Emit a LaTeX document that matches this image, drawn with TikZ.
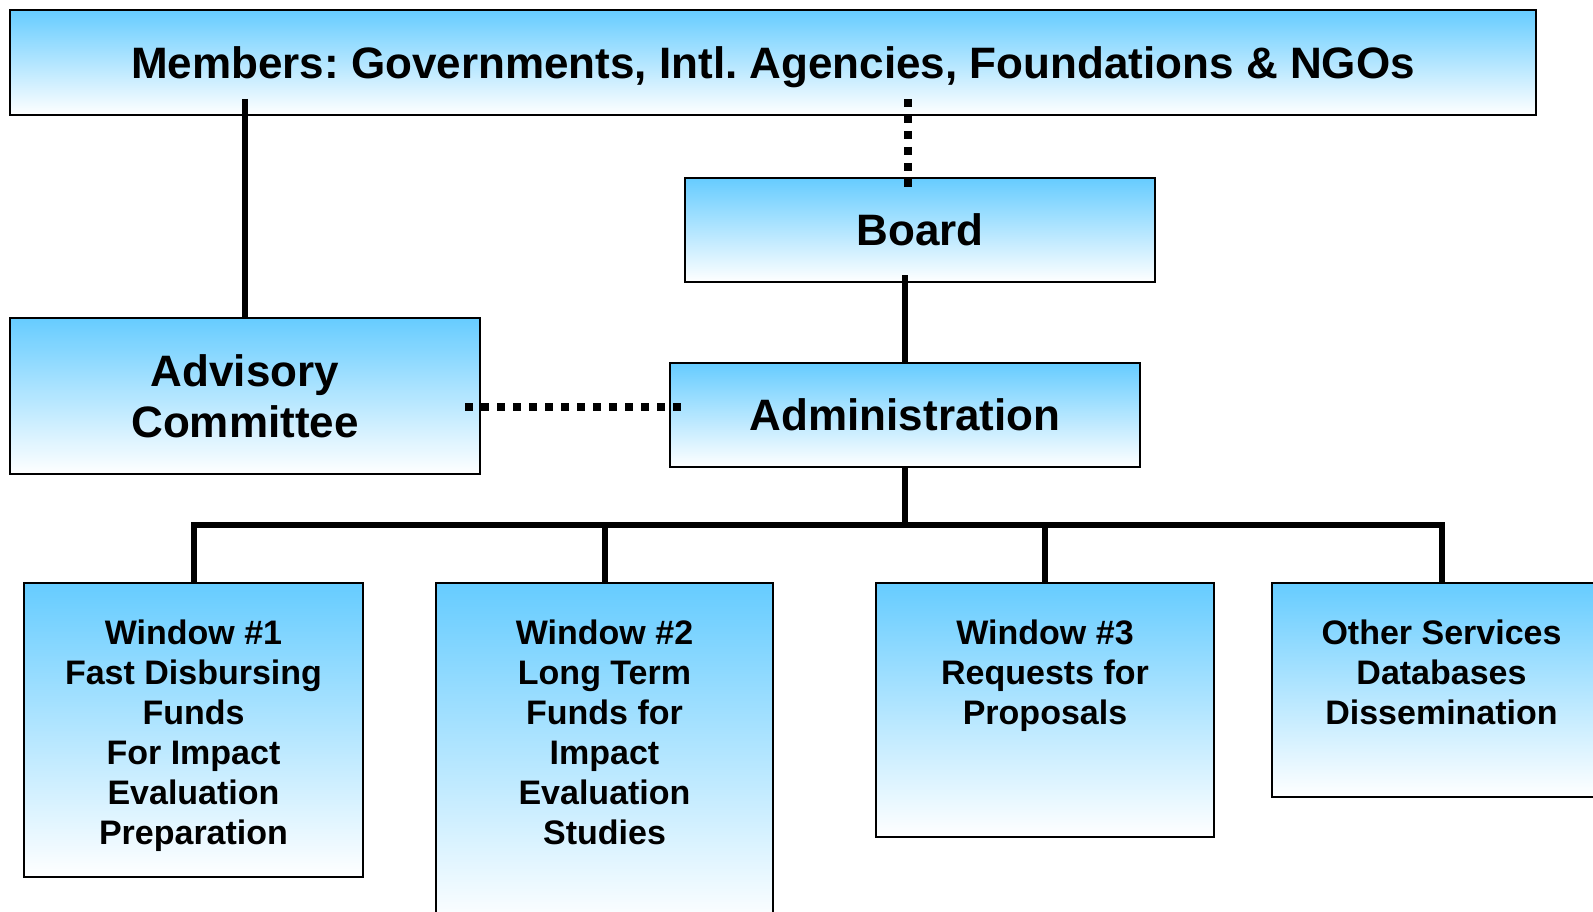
\documentclass[tikz,border=0pt]{standalone}
\usepackage{fontspec}
\setmainfont{Liberation Sans}
\usetikzlibrary{calc}
\definecolor{skyblue}{HTML}{66CCFF}
\frenchspacing
\begin{document}
\begin{tikzpicture}[x=1pt,y=-1pt,
  box/.style={draw=black, line width=1.8pt, rectangle, inner sep=0pt, outer sep=0pt,
    top color=skyblue, bottom color=white},
  bigbox/.style={box, font=\bfseries\fontsize{44}{51}\selectfont, align=center, text depth=0pt},
  wintext/.style={font=\bfseries\fontsize{34}{40}\selectfont, align=center, inner sep=0pt, anchor=north},
  link/.style={line width=6pt, line join=miter},
  dotlink/.style={line width=8pt, dash pattern=on 8pt off 8pt}]
\useasboundingbox (0,0) rectangle (1593,912);
\clip (0,0) rectangle (1593,912);

% upper tier
\node[bigbox, minimum width=1526pt, minimum height=105pt] (members) at (773,62.5)
  {Members: Governments, Intl. Agencies, Foundations \& NGOs};
\node[bigbox, minimum width=470pt, minimum height=104pt] (board) at (920,230) {Board};
\node[bigbox, minimum width=470pt, minimum height=156pt] (advisory) at (245,396)
  {Advisory\\Committee};
\node[bigbox, minimum width=470pt, minimum height=104pt] (admin) at (905,415) {Administration};

% funding windows
\node[box, minimum width=339pt, minimum height=294pt] (w1) at (193.5,730) {};
\node[box, minimum width=337pt, minimum height=342pt] (w2) at (604.5,754) {};
\node[box, minimum width=338pt, minimum height=254pt] (w3) at (1045,710) {};
\node[box, minimum width=339pt, minimum height=214pt] (w4) at (1441.5,690) {};

\node[wintext] (w1t) at ($(w1.north)+(0,37)$)
  {Window \#1\\Fast Disbursing\\Funds\\For Impact\\Evaluation\\Preparation};
\node[wintext] (w2t) at ($(w2.north)+(0,37)$)
  {Window \#2\\Long Term\\Funds for\\Impact\\Evaluation\\Studies};
\node[wintext] (w3t) at ($(w3.north)+(0,37)$)
  {Window \#3\\Requests for\\Proposals};
\node[wintext] (w4t) at ($(w4.north)+(0,37)$)
  {Other Services\\Databases\\Dissemination};

% connectors
\draw[link] ($(advisory.north |- members.south)+(0,-16)$) -- (advisory.north);
\draw[dotlink] ($(members.south -| board.north)+(-12,-16)$) -- ($(board.north)+(-12,11)$);
\draw[link] ($(admin.north |- board.south)+(0,-7)$) -- (admin.north);
\draw[dotlink] ($(advisory.east)+(-15,11)$) -- ($(admin.west)+(12,-8)$);
\draw[link] (admin.south) -- ++(0,58) coordinate (bus);
\draw[link] (w1.north) -- (w1.north |- bus) -- (w4.north |- bus) -- (w4.north);
\draw[link] (w2.north) -- (w2.north |- bus);
\draw[link] (w3.north) -- (w3.north |- bus);
\end{tikzpicture}
\end{document}
